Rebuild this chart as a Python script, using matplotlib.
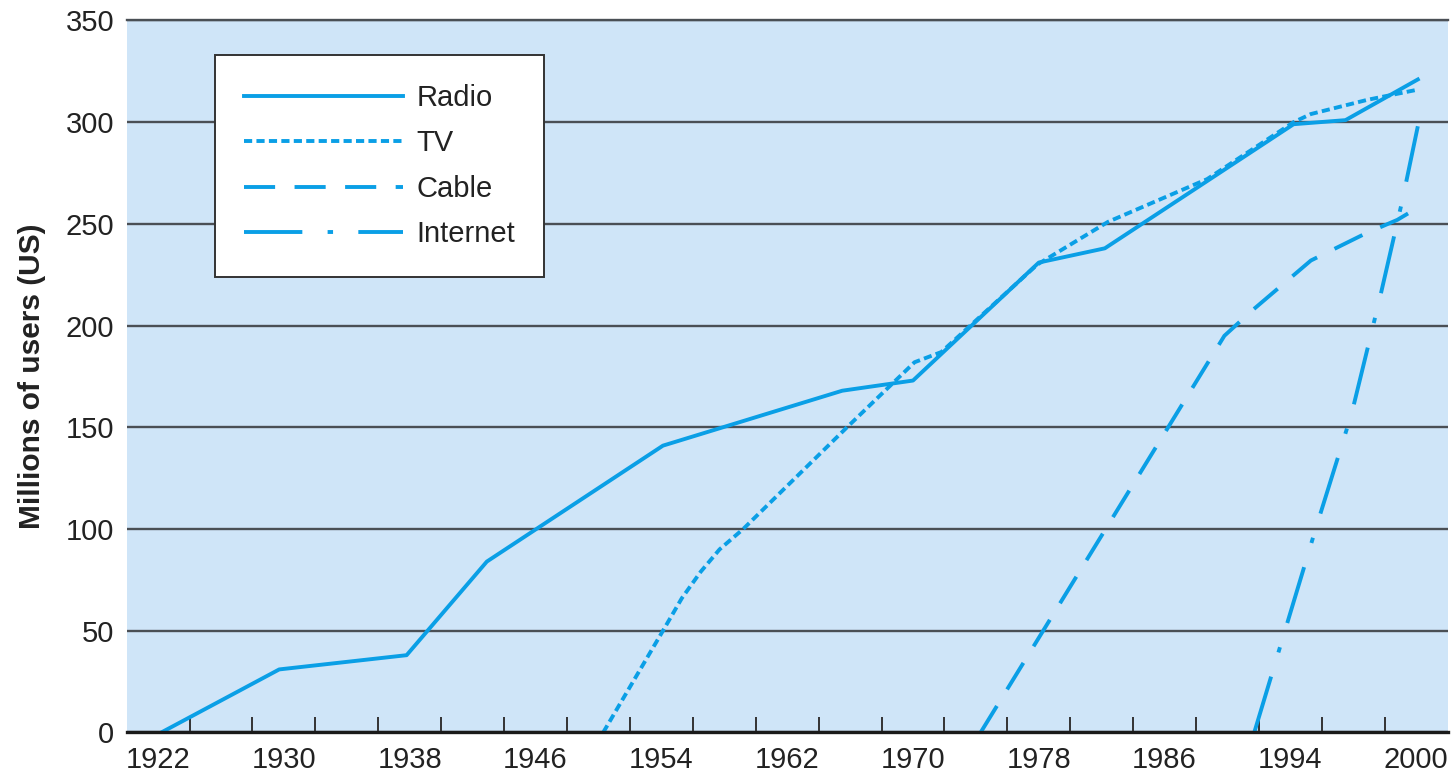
import matplotlib
matplotlib.use("Agg")
import matplotlib.pyplot as plt
import numpy as np

# ----- data -----------------------------------------------------------------

radio_years = [1922.2, 1929.7, 1937.8, 1942.9, 1954.1, 1965.5, 1970.0, 1978.0, 1982.2, 1994.2, 1997.5, 2002.1]
radio_users = [0, 31, 38, 84, 141, 168, 173, 231, 238, 299, 301, 321]

tv_years = [1950.3, 1954.1, 1955.3, 1956.5, 1957.7, 1959.2, 1965.8, 1970.1, 1971.8, 1977.9,
            1982.4, 1988.7, 1994.2, 1995.3, 1998.9, 2002.1]
tv_users = [0, 50, 66, 79, 90, 100, 150, 182, 187, 230, 251, 272, 300, 304, 311, 316]

cable_years = [1974.3, 1989.8, 1991.5, 1995.3, 1998.7, 2000.8, 2002.1]
cable_users = [0, 195, 207, 232, 245, 252, 258]

internet_years = [1991.7, 1995.6, 1997.9, 1999.7, 2001.1, 2002.1]
internet_users = [0, 100, 157, 214, 261, 298]

year_labels = ["1922", "1930", "1938", "1946", "1954", "1962", "1970", "1978", "1986", "1994", "2000"]

# ----- style -----------------------------------------------------------------

LINE = "#0a9fe6"
BG = "#cfe5f8"
GRID = "#4a4f55"
TXT = "#222222"
FONT = "Liberation Sans"

fig = plt.figure(figsize=(14.56, 7.78), dpi=100)
ax = fig.add_axes([0.0870, 0.0585, 0.9073, 0.9152])
ax.set_facecolor(BG)

lw = 2.8
ax.plot(radio_years, radio_users, color=LINE, lw=lw, label="Radio")
ax.plot(tv_years, tv_users, color=LINE, lw=lw, label="TV", dashes=(2.1, 1.1))
ax.plot(cable_years, cable_users, color=LINE, lw=lw, label="Cable", dashes=(8, 5))
ax.plot(internet_years, internet_users, color=LINE, lw=lw, label="Internet",
        dashes=(15, 6.5, 1.4, 6.5))

ax.set_xlim(1920, 2004)
ax.set_ylim(0, 350)

# labels sit between the tick marks, every 8 years
ax.set_xticks(np.arange(1922, 2003, 8))
ax.set_xticklabels(year_labels)
ax.set_xticks(np.arange(1924, 2001, 4), minor=True)
ax.tick_params(axis="x", which="major", length=0, pad=10, labelsize=21, labelcolor=TXT)
ax.tick_params(axis="x", which="minor", direction="in", length=11, width=1.4, color="#333333")

ax.set_yticks(np.arange(0, 351, 50))
ax.tick_params(axis="y", length=0, pad=9, labelsize=21, labelcolor=TXT)
for lab in ax.get_xticklabels() + ax.get_yticklabels():
    lab.set_fontfamily(FONT)

ax.yaxis.grid(True, color=GRID, lw=1.7)
ax.set_axisbelow(True)

for s in ("left", "right"):
    ax.spines[s].set_visible(False)
ax.spines["top"].set_color(GRID)
ax.spines["top"].set_linewidth(1.7)
ax.spines["bottom"].set_color("#1a1a1a")
ax.spines["bottom"].set_linewidth(2.4)

ax.set_ylabel("Millions of users (US)", fontsize=21.5, fontweight="bold",
              fontfamily=FONT, color=TXT)
ax.yaxis.set_label_coords(-0.061, 0.5)

leg = ax.legend(loc="upper left", bbox_to_anchor=(0.067, 0.952), frameon=True,
                fancybox=False, framealpha=1, edgecolor="#333333",
                prop={"family": FONT, "size": 21}, handlelength=5.45,
                handletextpad=0.45, labelspacing=0.6, borderpad=1.0,
                borderaxespad=0)
leg.get_frame().set_linewidth(1.4)
for t in leg.get_texts():
    t.set_color(TXT)

fig.savefig("out.png", dpi=100, facecolor="white")
